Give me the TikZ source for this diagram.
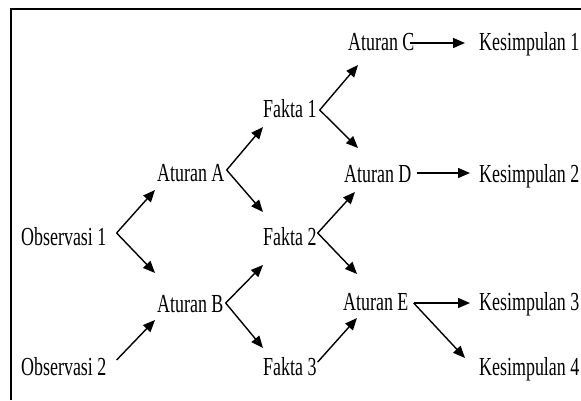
\documentclass[tikz,border=0pt]{standalone}
\usepackage{fontspec}
\setmainfont[FakeStretch=0.69]{Liberation Serif}
\usetikzlibrary{arrows.meta}
\begin{document}
\begin{tikzpicture}[x=1pt,y=-1pt,
  lbl/.style={anchor=base west,inner sep=0pt,font=\fontsize{26}{30}\selectfont},
  arr/.style={-{Triangle[length=12pt,width=10pt]},line width=1.4pt}]
\useasboundingbox (0,0) rectangle (581,400);
% frame
\draw[line width=1.8pt] (11,400) -- (11,9) -- (581,9);

% statements
\node[lbl] (o1) at (21,245) {Observasi 1};
\node[lbl] (o2) at (21,375) {Observasi 2};
\node[lbl] (aA) at (157,181) {Aturan A};
\node[lbl] (aB) at (157,312) {Aturan B};
\node[lbl] (f1) at (263,117) {Fakta 1};
\node[lbl] (f2) at (263,245) {Fakta 2};
\node[lbl] (f3) at (263,375) {Fakta 3};
\node[lbl] (aC) at (348,50) {Aturan C};
\node[lbl] (aD) at (344,182) {Aturan D};
\node[lbl] (aE) at (343,310) {Aturan E};
\node[lbl] (k1) at (479,50) {Kesimpulan 1};
\node[lbl] (k2) at (479,182) {Kesimpulan 2};
\node[lbl] (k3) at (479,310) {Kesimpulan 3};
\node[lbl] (k4) at (479,375) {Kesimpulan 4};

% inference arrows
\draw[arr] ([shift={(10,-12)}]o1.base east) -- ([shift={(-2,9)}]aA.base west);
\draw[arr] ([shift={(10,-12)}]o1.base east) -- ([shift={(-2,-39)}]aB.base west);
\draw[arr] ([shift={(10,-15)}]o2.base east) -- ([shift={(-2,8)}]aB.base west);

\draw[arr] ([shift={(2,-11)}]aA.base east) -- ([shift={(0,10)}]f1.base west);
\draw[arr] ([shift={(2,-11)}]aA.base east) -- ([shift={(0,-33)}]f2.base west);
\draw[arr] ([shift={(2,-9)}]aB.base east) -- ([shift={(0,20)}]f2.base west);
\draw[arr] ([shift={(2,-9)}]aB.base east) -- ([shift={(0,-27)}]f3.base west);

\draw[arr] ([shift={(3,-7)}]f1.base east) -- ([shift={(10,15)}]aC.base west);
\draw[arr] ([shift={(3,-7)}]f1.base east) -- ([shift={(14,-34)}]aD.base west);
\draw[arr] ([shift={(1,-12)}]f2.base east) -- ([shift={(11,10)}]aD.base west);
\draw[arr] ([shift={(1,-12)}]f2.base east) -- ([shift={(14,-36)}]aE.base west);
\draw[arr] ([shift={(1,-13)}]f3.base east) -- ([shift={(14,8)}]aE.base west);

\draw[arr] ([shift={(-5,-7)}]aC.base east) -- ([shift={(-14,-7)}]k1.base west);
\draw[arr] ([shift={(5,-9)}]aD.base east) -- ([shift={(-9,-9)}]k2.base west);
\draw[arr] ([shift={(5,-7)}]aE.base east) -- ([shift={(-9,-7)}]k3.base west);
\draw[arr] ([shift={(5,-7)}]aE.base east) -- ([shift={(-14,-17)}]k4.base west);
\end{tikzpicture}
\end{document}
